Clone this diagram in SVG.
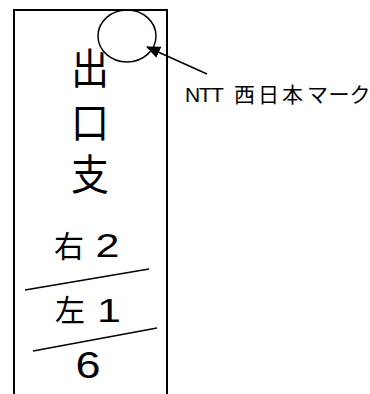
<svg xmlns="http://www.w3.org/2000/svg" width="370" height="394" viewBox="0 0 370 394">
  <defs>
    <marker id="arrow" markerUnits="userSpaceOnUse" markerWidth="14" markerHeight="12" refX="13" refY="6" orient="auto">
      <path d="M0,0 L14,6 L0,12 z" fill="#000"/>
    </marker>
    <style>
      .edge { fill: none; stroke: #000; stroke-width: 2; }
      .thin { fill: none; stroke: #000; stroke-width: 1.5; }
      .cjk { font-family: "Liberation Sans", "Noto Sans CJK JP", sans-serif; fill: #000; text-anchor: middle; }
      .num { font-family: "Liberation Sans", "Noto Sans CJK JP", sans-serif; fill: #000; text-anchor: middle; }
      .label { font-family: "Liberation Sans", "Noto Sans CJK JP", sans-serif; font-size: 21px; fill: #000; }
    </style>
  </defs>
  <rect width="370" height="394" fill="#fff"/>

  <g id="plate">
    <rect class="edge" x="14" y="10" width="153" height="420"/>
  </g>

  <g id="mark">
    <ellipse class="thin" cx="127" cy="36" rx="29" ry="26"/>
  </g>

  <g id="plate-text">
    <text class="cjk" font-size="38" transform="translate(90,84.4) scale(1,1.1)">出</text>
    <text class="cjk" font-size="38" transform="translate(90,138.4) scale(1,1.1)">口</text>
    <text class="cjk" font-size="38" transform="translate(90,190) scale(1,1.1)">支</text>
    <text class="cjk" font-size="30" x="69" y="256.5">右</text>
    <text class="num" font-size="33" transform="translate(107.5,257) scale(1.3,1)">2</text>
    <text class="cjk" font-size="30" x="70" y="321">左</text>
    <text class="num" font-size="33" transform="translate(109,322) scale(1.3,1)">1</text>
    <text class="num" font-size="36" transform="translate(88,378) scale(1.25,1)">6</text>
  </g>

  <g id="dividers">
    <line class="thin" x1="25" y1="290" x2="149" y2="269"/>
    <line class="thin" x1="33" y1="351" x2="157" y2="328"/>
  </g>

  <g id="label">
    <text class="label" x="185 199 211 224 234 258 282 307 328.5 349.5" y="102">NTT 西日本マーク</text>
  </g>

  <g id="connectors">
    <line class="thin" x1="207" y1="74" x2="147" y2="47" marker-end="url(#arrow)"/>
  </g>
</svg>
